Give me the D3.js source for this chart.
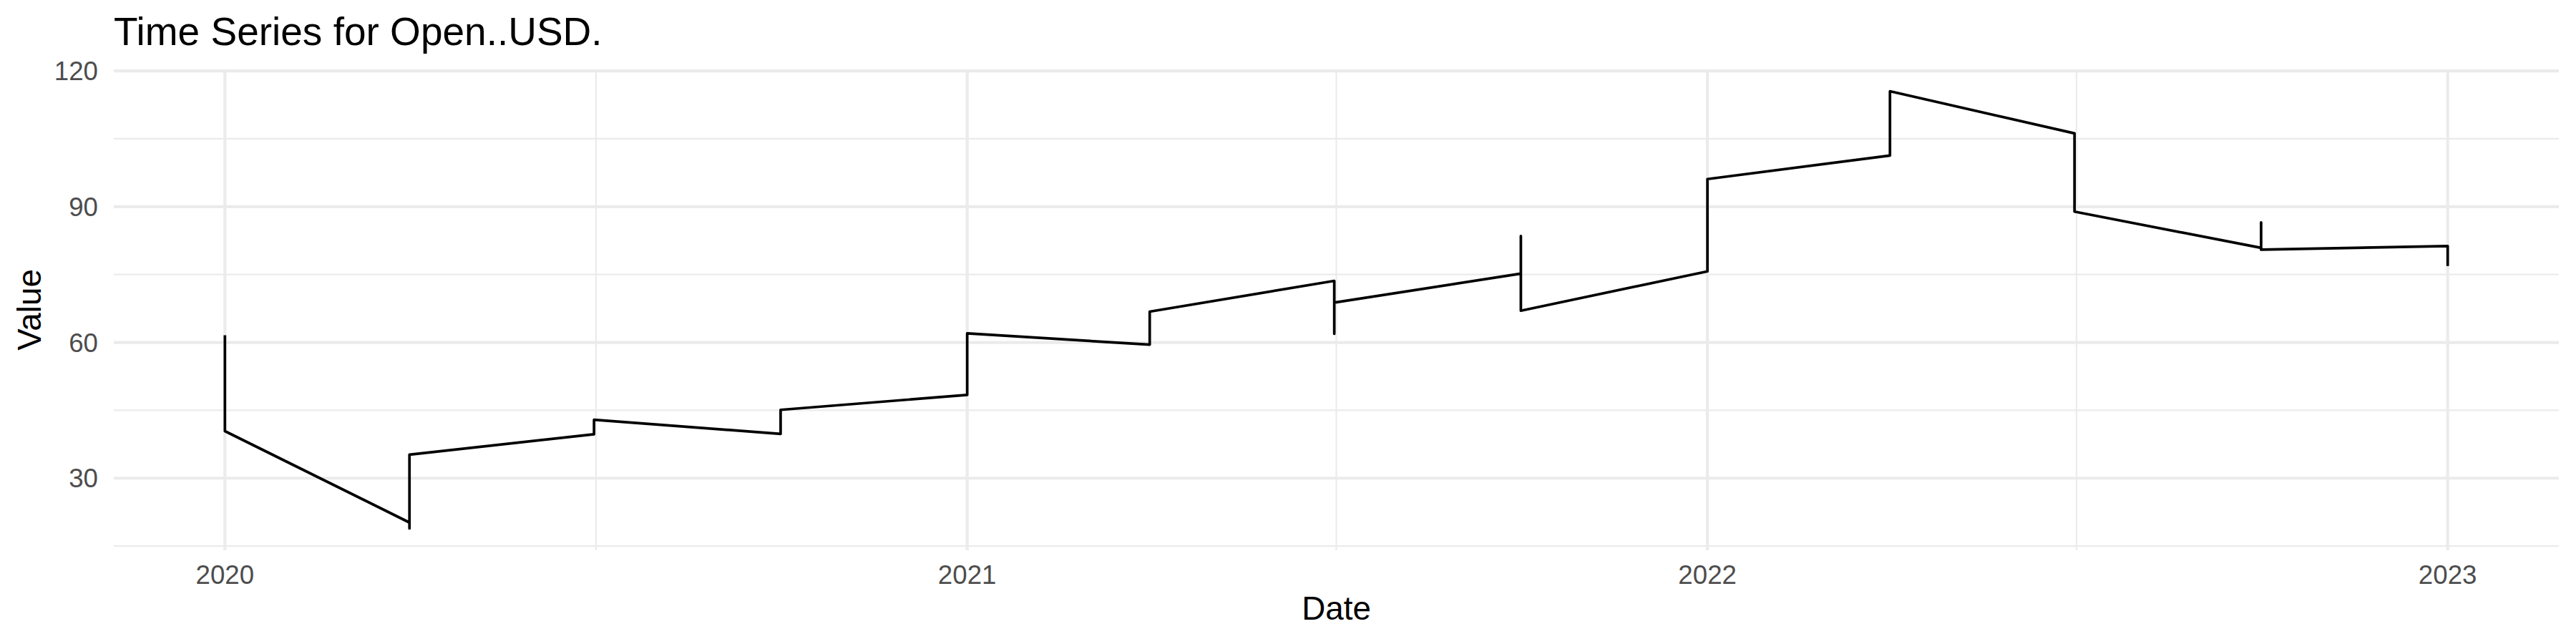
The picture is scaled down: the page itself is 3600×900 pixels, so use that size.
<!DOCTYPE html>
<html><head><meta charset="utf-8">
<script src="https://cdn.jsdelivr.net/npm/d3@7"></script>
<style>body{margin:0;background:#fff}svg{display:block}</style>
</head><body>
<svg id="c" width="3600" height="900"></svg>
<script>
// ---- data ----
const dates = [
  "2020-01-01","2020-01-01",
  "2020-04-01","2020-04-01","2020-04-01",
  "2020-07-01","2020-07-01",
  "2020-10-01","2020-10-01",
  "2021-01-01","2021-01-01",
  "2021-04-01","2021-04-01",
  "2021-07-01","2021-07-01","2021-07-01",
  "2021-10-01","2021-10-01","2021-10-01",
  "2022-01-01","2022-01-01",
  "2022-04-01","2022-04-01",
  "2022-07-01","2022-07-01",
  "2022-10-01","2022-10-01","2022-10-01",
  "2023-01-01","2023-01-01"
];
const values = [
  61.6, 40.4,
  20.2, 18.9, 35.2,
  39.7, 42.9,
  39.8, 45.1,
  48.4, 62.0,
  59.5, 66.8,
  73.6, 61.9, 68.8,
  75.2, 83.5, 67.0,
  75.7, 96.1,
  101.3, 115.5,
  106.2, 88.9,
  80.9, 86.5, 80.5,
  81.3, 76.9
];
const yTicks = [30, 60, 90, 120];
const yMinorTicks = [15, 45, 75, 105];
const xTickDates = ["2020-01-01","2021-01-01","2022-01-01","2023-01-01"];
const xTickLabels = ["2020","2021","2022","2023"];
const xMinorTicks = ["2020-07-02","2021-07-02","2022-07-02"];
const titleText = "Time Series for Open..USD.";
const xTitle = "Date";
const yTitle = "Value";

// ---- layout ----
const panel = {left: 159, right: 3576, top: 97, bottom: 769};
const font = "'Liberation Sans', Arial, Helvetica, sans-serif";
const parse = d3.utcParse("%Y-%m-%d");
const pts = dates.map((d, i) => ({date: parse(d), value: values[i]}));

const [d0, d1] = d3.extent(pts, p => p.date);
const xPad = (d1 - d0) * 0.05;
const x = d3.scaleUtc()
  .domain([new Date(+d0 - xPad), new Date(+d1 + xPad)])
  .range([panel.left, panel.right]);

const [v0, v1] = d3.extent(values);
const yPad = (v1 - v0) * 0.05;
const y = d3.scaleLinear()
  .domain([v0 - yPad, v1 + yPad])
  .range([panel.bottom, panel.top]);

const svg = d3.select("#c");
svg.append("rect").attr("width", 3600).attr("height", 900).attr("fill", "#fff");

const grid = svg.append("g").attr("stroke", "#EBEBEB").attr("fill", "none");
// minor grid
grid.selectAll("line.ymin").data(yMinorTicks).join("line")
  .attr("x1", panel.left).attr("x2", panel.right)
  .attr("y1", d => y(d)).attr("y2", d => y(d)).attr("stroke-width", 2.2);
grid.selectAll("line.xmin").data(xMinorTicks).join("line")
  .attr("y1", panel.top).attr("y2", panel.bottom)
  .attr("x1", d => x(parse(d))).attr("x2", d => x(parse(d))).attr("stroke-width", 2.2);
// major grid
grid.selectAll("line.ymaj").data(yTicks).join("line")
  .attr("x1", panel.left).attr("x2", panel.right)
  .attr("y1", d => y(d)).attr("y2", d => y(d)).attr("stroke-width", 4.2);
grid.selectAll("line.xmaj").data(xTickDates).join("line")
  .attr("y1", panel.top).attr("y2", panel.bottom)
  .attr("x1", d => x(parse(d))).attr("x2", d => x(parse(d))).attr("stroke-width", 4.2);

// data line
const line = d3.line().x(p => x(p.date)).y(p => y(p.value));
svg.append("path").datum(pts)
  .attr("d", line)
  .attr("fill", "none")
  .attr("stroke", "#000")
  .attr("stroke-width", 3.7)
  .attr("stroke-linejoin", "round")
  .attr("stroke-linecap", "butt");

// y tick labels
svg.append("g").selectAll("text").data(yTicks).join("text")
  .attr("x", 137).attr("y", d => y(d) + 13)
  .attr("text-anchor", "end")
  .attr("font-family", font).attr("font-size", 36.7).attr("fill", "#4D4D4D")
  .text(d => d);

// x tick labels
svg.append("g").selectAll("text").data(xTickDates).join("text")
  .attr("x", d => x(parse(d))).attr("y", 816)
  .attr("text-anchor", "middle")
  .attr("font-family", font).attr("font-size", 36.7).attr("fill", "#4D4D4D")
  .text((d, i) => xTickLabels[i]);

// axis titles
svg.append("text")
  .attr("x", (panel.left + panel.right) / 2).attr("y", 866)
  .attr("text-anchor", "middle")
  .attr("font-family", font).attr("font-size", 45.8).attr("fill", "#000")
  .text(xTitle);
svg.append("text")
  .attr("transform", `translate(57,${(panel.top + panel.bottom) / 2}) rotate(-90)`)
  .attr("text-anchor", "middle")
  .attr("font-family", font).attr("font-size", 45.8).attr("fill", "#000")
  .text(yTitle);

// title
svg.append("text")
  .attr("x", panel.left).attr("y", 63)
  .attr("font-family", font).attr("font-size", 55).attr("fill", "#000")
  .text(titleText);
</script>
</body></html>
